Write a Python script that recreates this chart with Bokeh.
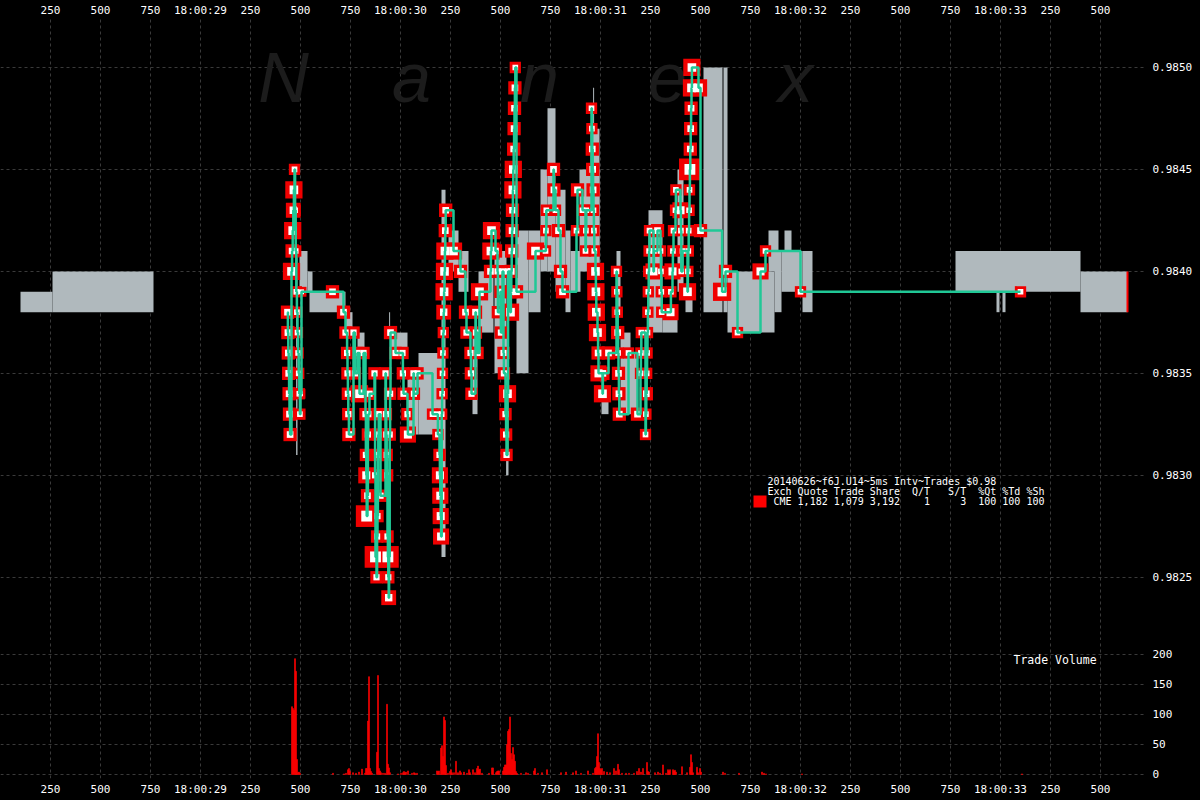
import math
from bokeh.plotting import figure
from bokeh.layouts import column
from bokeh.models import (Range1d, FixedTicker, PrintfTickFormatter, Label, BoxAnnotation,
                          GlobalInlineStyleSheet)
from bokeh.embed import file_html
from bokeh.resources import INLINE

# ---------------- data (time in ms after 18:00:28.000) ----------------
trade_ms = [
    1435, 1437, 1439, 1441, 1443, 1445, 1448,
    1455, 1458, 1461, 1464, 1467, 1470,
    1473, 1476, 1479, 1482, 1485, 1488, 1491, 1494, 1497, 1500, 1505,
    1660, 1715,
    1725, 1733, 1735, 1737, 1739, 1742,
    1765, 1772, 1785, 1795, 1815,
    1825, 1827, 1829, 1831, 1835, 1837, 1839, 1845,
    1870, 1873, 1875, 1880, 1883, 1885, 1887, 1889, 1891, 1900,
    1925, 1927, 1929, 1931, 1933, 1935, 1937, 1939, 1941, 1943,
    1946, 1948, 1950,
    1975, 2010, 2012, 2015, 2035, 2037, 2065, 2067, 2085,
    2160, 2185, 2187,
    2195, 2197, 2199, 2201, 2203, 2206, 2208, 2210, 2212, 2214, 2216, 2218, 2220, 2222, 2224, 2226,
    2265, 2300, 2325, 2330, 2350, 2352, 2355, 2375, 2377, 2385, 2395,
    2450, 2452, 2455, 2475, 2485, 2487, 2500, 2502, 2510, 2515, 2517,
    2525, 2528, 2530, 2535, 2538,
    2550, 2552, 2554, 2556, 2558, 2560, 2562, 2564, 2566, 2568, 2570, 2572, 2574, 2580,
    2675, 2725, 2727, 2729, 2765, 2767, 2775, 2790, 2800, 2810,
    2880, 2885, 2910,
    2925, 2927, 2929,
    2955, 2957, 2959, 2961, 2963, 2965, 2967, 2969, 2975, 2977, 2979, 2985, 2988, 2990, 3010, 3012, 3040,
    3080, 3082, 3084, 3086, 3088, 3090, 3092, 3094,
    3140, 3185, 3200, 3202, 3204,
    3225, 3227, 3229, 3231, 3233, 3235, 3237, 3239, 3241, 3243, 3245,
    3265, 3267, 3285, 3300, 3302, 3304, 3306,
    3350, 3352, 3360, 3362, 3365, 3375, 3377,
    3400, 3402, 3404, 3410,
    3435, 3437, 3439, 3441, 3443, 3445, 3447, 3449, 3451, 3453, 3455, 3457,
    3490, 3500,
    3608, 3625, 3685, 3800, 3825, 4000, 5100,
]
trade_px = [
    0.9838, 0.9837, 0.9836, 0.9835, 0.9834, 0.9833, 0.9832,
    0.9840, 0.9841, 0.9842, 0.9843, 0.9844, 0.9845,
    0.9843, 0.9841, 0.9839, 0.9838, 0.9837, 0.9836, 0.9835, 0.9834, 0.9833, 0.9834, 0.9839,
    0.9839, 0.9838,
    0.9837, 0.9836, 0.9835, 0.9834, 0.9833, 0.9832,
    0.9837, 0.9835, 0.9836, 0.9834, 0.9836,
    0.9833, 0.9831, 0.9830, 0.9828, 0.9829, 0.9832, 0.9833, 0.9834,
    0.9835, 0.9830, 0.9826, 0.9825, 0.9827, 0.9828, 0.9831, 0.9832, 0.9833, 0.9829,
    0.9835, 0.9833, 0.9832, 0.9831, 0.9830, 0.9827, 0.9826, 0.9825, 0.9824, 0.9826,
    0.9832, 0.9834, 0.9837,
    0.9836, 0.9836, 0.9835, 0.9834, 0.9833, 0.9832, 0.9835, 0.9834, 0.9835,
    0.9833, 0.9833, 0.9832,
    0.9831, 0.9830, 0.9829, 0.9828, 0.9827, 0.9833, 0.9834, 0.9835, 0.9836, 0.9837, 0.9838, 0.9839, 0.9840, 0.9841, 0.9842, 0.9843,
    0.9841, 0.9840, 0.9838, 0.9837, 0.9836, 0.9835, 0.9834, 0.9838, 0.9837, 0.9836, 0.9839,
    0.9840, 0.9841, 0.9842, 0.9841, 0.9840, 0.9838, 0.9839, 0.9837, 0.9840, 0.9836, 0.9835,
    0.9833, 0.9832, 0.9831, 0.9834, 0.9840,
    0.9838, 0.9839, 0.9840, 0.9841, 0.9842, 0.9843, 0.9844, 0.9845, 0.9846, 0.9847, 0.9848, 0.9849, 0.9850, 0.9839,
    0.9841, 0.9841, 0.9842, 0.9843, 0.9845, 0.9844, 0.9843, 0.9842, 0.9840, 0.9839,
    0.9842, 0.9844, 0.9843,
    0.9841, 0.9842, 0.9843,
    0.9848, 0.9847, 0.9846, 0.9845, 0.9844, 0.9843, 0.9842, 0.9841, 0.9840, 0.9839, 0.9838, 0.9837, 0.9836, 0.9835, 0.9834, 0.9835, 0.9836,
    0.9840, 0.9839, 0.9838, 0.9837, 0.9836, 0.9835, 0.9834, 0.9833,
    0.9836, 0.9833, 0.9835, 0.9836, 0.9837,
    0.9832, 0.9833, 0.9834, 0.9835, 0.9836, 0.9837, 0.9838, 0.9839, 0.9840, 0.9841, 0.9842,
    0.9840, 0.9841, 0.9842, 0.9841, 0.9840, 0.9839, 0.9838,
    0.9838, 0.9839, 0.9840, 0.9841, 0.9842, 0.9843, 0.9844,
    0.9843, 0.9842, 0.9840, 0.9841,
    0.9839, 0.9840, 0.9841, 0.9842, 0.9843, 0.9844, 0.9845, 0.9846, 0.9847, 0.9848, 0.9849, 0.9850,
    0.9849, 0.9842,
    0.9839, 0.9840, 0.9837, 0.9840, 0.9841, 0.9839, 0.9839,
]
trade_qty = [
    4, 4, 4, 4, 4, 4, 4,
    10, 4, 10, 6, 10, 2,
    2, 2, 2, 2, 2, 2, 2, 2, 2, 1, 1,
    4, 4,
    3, 3, 3, 3, 3, 4,
    3, 3, 3, 10, 3,
    3, 3, 8, 20, 4, 3, 3, 3,
    3, 3, 20, 3, 3, 3, 3, 3, 3, 3,
    3, 3, 3, 3, 3, 3, 20, 3, 6, 3,
    3, 3, 4,
    3, 3, 3, 3, 3, 8, 3, 3, 3,
    2, 2, 2,
    3, 8, 8, 8, 8, 2, 2, 2, 2, 2, 6, 10, 10, 10, 4, 4,
    10, 4, 4, 3, 3, 3, 3, 4, 3, 3, 10,
    4, 10, 10, 4, 3, 3, 3, 3, 3, 3, 3,
    3, 3, 3, 10, 3,
    10, 4, 4, 4, 4, 4, 10, 10, 4, 4, 4, 4, 2, 4,
    10, 2, 2, 2, 4, 4, 2, 4, 4, 4,
    2, 4, 2,
    2, 2, 2,
    2, 2, 4, 4, 4, 2, 2, 2, 10, 10, 10, 10, 4, 8, 10, 4, 4,
    2, 2, 2, 4, 2, 4, 4, 4,
    2, 4, 2, 2, 2,
    2, 2, 4, 2, 2, 2, 2, 2, 2, 2, 2,
    8, 2, 4, 2, 2, 2, 2,
    8, 2, 8, 2, 2, 2, 2,
    8, 2, 2, 2,
    10, 2, 2, 2, 2, 2, 20, 4, 4, 4, 10, 10,
    10, 4,
    12, 4, 2, 8, 2, 2, 2,
]

# best bid / offer spans
quote_start = [100, 260, 1478, 1495, 1535, 1545, 1725, 1785, 1943, 1950, 2035, 2090, 2205,
               2240, 2290, 2360, 2390, 2470, 2528, 2580, 2640, 2700, 2735, 2775, 2825, 2850,
               2895, 2950, 2963, 3005, 3080, 3100, 3140, 3240, 3310, 3385, 3425, 3515, 3615,
               3635, 3840, 3870, 3905, 3920, 4010, 4775, 4980, 5010, 5400]
quote_end = [260, 765, 1485, 1535, 1560, 1725, 1760, 1820, 1948, 2035, 2090, 2215, 2225,
             2290, 2340, 2385, 2465, 2530, 2540, 2640, 2700, 2735, 2775, 2825, 2850, 2900,
             2995, 2995, 2968, 3040, 3100, 3150, 3185, 3310, 3385, 3415, 3460, 3610, 3635,
             3870, 3890, 3905, 4010, 3955, 4060, 5400, 4995, 5025, 5635]
quote_bid = [0.9838, 0.9838, 0.9831, 0.9839, 0.9839, 0.9838, 0.9837, 0.9836, 0.9837, 0.9836,
             0.9832, 0.9832, 0.9826, 0.9840, 0.9839, 0.9833, 0.9837, 0.9835, 0.9830, 0.9835,
             0.9838, 0.9840, 0.9840, 0.9839, 0.9838, 0.9839, 0.9840, 0.9840, 0.9847, 0.9833,
             0.9838, 0.9833, 0.9833, 0.9837, 0.9837, 0.9839, 0.9838, 0.9838, 0.9838, 0.9837,
             0.9840, 0.9838, 0.9839, 0.9841, 0.9838, 0.9839, 0.9838, 0.9838, 0.9838]
quote_ask = [0.9839, 0.9840, 0.9841, 0.9841, 0.9840, 0.9839, 0.9838, 0.9837, 0.9838, 0.9837,
             0.9835, 0.9836, 0.9844, 0.9842, 0.9841, 0.9837, 0.9840, 0.9841, 0.9837, 0.9842,
             0.9842, 0.9845, 0.9848, 0.9844, 0.9842, 0.9841, 0.9845, 0.9847, 0.9849, 0.9834,
             0.9841, 0.9837, 0.9836, 0.9843, 0.9838, 0.9845, 0.9839, 0.9850, 0.9850, 0.9840,
             0.9842, 0.9841, 0.9841, 0.9842, 0.9841, 0.9841, 0.9839, 0.9839, 0.9840]

# trade volume per 5 ms interval
vol_ms = [1455, 1460, 1465, 1470, 1475, 1480, 1485, 1490, 1495,
          1660, 1715, 1725, 1735, 1740, 1745, 1760, 1775, 1790, 1805, 1820,
          1825, 1830, 1835, 1840, 1845, 1850, 1855,
          1880, 1885, 1890, 1895, 1900, 1910, 1920,
          1930, 1935, 1940, 1945,
          1985, 2000, 2010, 2015, 2020, 2025, 2035, 2055, 2065, 2070, 2080,
          2180, 2185, 2190, 2200, 2205, 2210, 2215, 2220, 2225, 2235, 2245, 2250, 2255, 2265,
          2275, 2285, 2295, 2300, 2315, 2330, 2340, 2345, 2360, 2370, 2380, 2385, 2390, 2395, 2405,
          2440, 2455, 2460, 2475, 2480, 2485, 2490,
          2510, 2515, 2520, 2525, 2530, 2535, 2540, 2545, 2550, 2555, 2560, 2565, 2570, 2575, 2580,
          2600, 2625, 2635, 2665, 2670, 2685, 2705, 2730,
          2800, 2825, 2860, 2875, 2900, 2935, 2960, 2970, 2975, 2980, 2985, 2990, 2995,
          3000, 3005, 3015, 3030, 3045, 3065, 3075, 3085, 3090, 3105, 3125, 3140, 3165, 3180,
          3190, 3200, 3210, 3230, 3235, 3240, 3270, 3285, 3295, 3310, 3325, 3335, 3340, 3345,
          3360, 3365, 3370, 3375, 3405, 3430, 3445, 3450, 3455, 3460, 3480, 3485, 3495, 3500,
          3610, 3620, 3690, 3805, 3815, 3825, 4005, 5105]
vol_qty = [113, 110, 107, 193, 172, 25, 3, 4, 2,
           2, 1, 2, 8, 10, 5, 3, 2, 4, 9, 2,
           10, 10, 89, 163, 10, 5, 2,
           37, 165, 10, 6, 3, 2, 2,
           117, 17, 11, 3,
           1, 2, 3, 5, 3, 4, 6, 2, 3, 2, 2,
           6, 5, 6, 44, 48, 30, 96, 90, 15, 2, 5, 8, 3, 3,
           22, 3, 6, 3, 4, 2, 8, 3, 8, 3, 10, 14, 8, 9, 2,
           2, 11, 11, 3, 5, 6, 6,
           6, 12, 16, 16, 50, 72, 75, 96, 35, 25, 45, 33, 22, 5, 2,
           2, 3, 2, 6, 10, 2, 3, 8,
           3, 4, 3, 6, 2, 6, 2, 10, 12, 30, 68, 20, 10,
           8, 10, 5, 4, 3, 10, 6, 17, 8, 2, 2, 2, 2, 5,
           10, 4, 10, 20, 5, 4, 3, 4, 2, 16, 2, 8, 6, 8,
           8, 6, 7, 4, 13, 3, 12, 33, 20, 3, 12, 3, 10, 4,
           4, 2, 2, 4, 2, 1, 1, 1]

price_ticks = [0.9825, 0.9830, 0.9835, 0.9840, 0.9845, 0.9850]
vol_ticks = [0, 50, 100, 150, 200]
time_ticks = list(range(250, 5726, 250))
time_labels = {t: (f"18:00:{28 + t // 1000:02d}" if t % 1000 == 0 else str(t % 1000)) for t in time_ticks}

watermark = ["N", "a", "n", "e", "x"]
legend_lines = ["20140626~f6J.U14~5ms Intv~Trades $0.98",
                "Exch Quote Trade Share  Q/T   S/T  %Qt %Td %Sh",
                " CME 1,182 1,079 3,192    1     3  100 100 100"]

# ---------------- styling ----------------
FONT = "DejaVu Sans Mono"
RED = "#f00000"
GREEN = "#20c896"
GRAY = "#b0b9bd"
GRID = "#3a3a3a"

x_range = Range1d(0, 5725)


def style(fig, standoff):
    for ax in fig.axis:
        ax.axis_line_color = None
        ax.major_tick_line_color = None
        ax.minor_tick_line_color = None
        ax.major_tick_out = 0
        ax.major_tick_in = 0
        ax.minor_tick_out = 0
        ax.minor_tick_in = 0
        ax.major_label_text_color = "white"
        ax.major_label_text_font = FONT
        ax.major_label_text_font_size = "11px"
        ax.major_label_standoff = standoff
    fig.grid.grid_line_color = GRID
    fig.grid.grid_line_dash = "3 3"
    fig.xaxis.ticker = FixedTicker(ticks=time_ticks)
    fig.xaxis.major_label_overrides = time_labels
    fig.xgrid.ticker = FixedTicker(ticks=[0] + time_ticks)


pp = figure(frame_width=1145, frame_height=624, x_range=x_range,
            y_range=Range1d(0.98219, 0.98525),
            x_axis_location="above", y_axis_location="right",
            output_backend="svg", toolbar_location=None,
            background_fill_color="black", border_fill_color="black",
            outline_line_color=None,
            min_border_left=0, min_border_right=55, min_border_top=0, min_border_bottom=0)
style(pp, 0)
pp.yaxis.major_label_standoff = 7
pp.yaxis.ticker = FixedTicker(ticks=price_ticks)
pp.yaxis.formatter = PrintfTickFormatter(format="%.4f")
pp.ygrid.ticker = FixedTicker(ticks=price_ticks)

for i, ch in enumerate(watermark):
    lab = Label(x=283 + i * 128, y=563, x_units="screen", y_units="screen", text=ch,
                text_align="center", text_baseline="alphabetic", text_font="Liberation Sans",
                text_font_style="italic", text_font_size="70px", text_color="#1c1c1c",
                level="underlay")
    pp.add_layout(lab)

pp.quad(left=quote_start, right=quote_end, bottom=quote_bid, top=quote_ask,
        fill_color=GRAY, line_color=None)
pp.segment(x0=quote_end[-1:], y0=quote_bid[-1:], x1=quote_end[-1:], y1=quote_ask[-1:],
           line_color="#ff0000", line_width=2)

outer = [6.5 + 3.4 * math.sqrt(q) for q in trade_qty]
inner = [s * 0.5 for s in outer]
pp.scatter(trade_ms, trade_px, size=outer, marker="square", fill_color=RED, line_color=None)
pp.scatter(trade_ms, trade_px, size=inner, marker="square", fill_color="white", line_color=None)
pp.step(trade_ms, trade_px, mode="after", line_color=GREEN, line_width=2.5)

for j, txt in enumerate(legend_lines):
    pp.add_layout(Label(x=767, y=159 - j * 10, x_units="screen", y_units="screen",
                        text=txt.replace(" ", "\u00a0"),
                        text_baseline="middle", text_font=FONT, text_font_size="10px",
                        text_color="white"))
pp.add_layout(BoxAnnotation(left=753, right=766, top=145, bottom=133,
                            left_units="screen", right_units="screen",
                            top_units="screen", bottom_units="screen",
                            fill_color="#ff0000", fill_alpha=1.0, line_color=None))

pv = figure(frame_width=1145, frame_height=138, x_range=x_range,
            y_range=Range1d(-6.67, 223.3),
            x_axis_location="below", y_axis_location="right",
            output_backend="svg", toolbar_location=None,
            background_fill_color="black", border_fill_color="black",
            outline_line_color=None,
            min_border_left=0, min_border_right=55, min_border_top=0, min_border_bottom=0)
style(pv, 4)
pv.yaxis.major_label_standoff = 7
pv.yaxis.ticker = FixedTicker(ticks=vol_ticks)
pv.ygrid.ticker = FixedTicker(ticks=vol_ticks)
pv.vbar(x=[t + 2.5 for t in vol_ms], width=5, top=vol_qty, bottom=0,
        fill_color="#ff0000", line_color="#ff0000", line_width=0.6)
pv.add_layout(Label(x=1013, y=119, x_units="screen", y_units="screen", text="Trade\u00a0Volume",
                    text_baseline="middle", text_font=FONT, text_font_size="11.5px",
                    text_color="white"))

layout = column(pp, pv, spacing=0)
layout.stylesheets = [GlobalInlineStyleSheet(
    css="html, body { margin: 0; padding: 0; background: #000000; overflow: hidden; }")]

open("out.html", "w").write(file_html(layout, INLINE))
